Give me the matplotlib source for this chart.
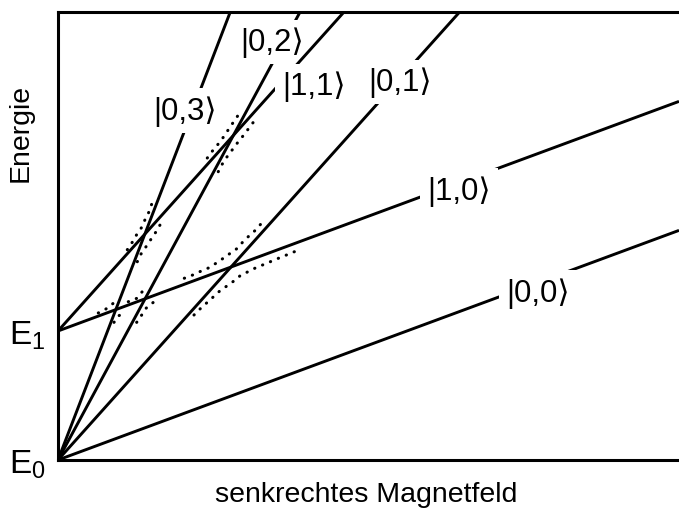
import numpy as np
import matplotlib.pyplot as plt

plt.rcParams['font.family'] = ['Liberation Sans', 'DejaVu Sans']
plt.rcParams['mathtext.default'] = 'regular'

# energy levels: energy at zero field and slope per unit field
states = ["|0,0⟩", "|1,0⟩", "|0,1⟩", "|0,2⟩", "|1,1⟩", "|0,3⟩"]
E_start = [0.0, 1.0, 0.0, 0.0, 1.0, 0.0]
slopes = [0.178, 0.178, 0.537, 0.891, 0.537, 1.252]

# where the state names sit (data coords)
label_B = [7.73, 6.46, 5.51, 3.45, 4.12, 2.05]
label_E = [1.30, 2.09, 2.93, 3.24, 2.90, 2.71]

B_max = 10.0
E_max = 3.473
E_ticks = [0.0, 1.0]
E_ticklabels = ["E$_0$", "E$_1$"]

# avoided crossings (dotted): (B values, E values)
anticrossings = [
    # |0,3> x |1,1>
    ([1.116, 1.196, 1.267, 1.348, 1.401, 1.470, 1.509],
     [1.630, 1.688, 1.747, 1.804, 1.863, 1.928, 1.984]),
    ([1.277, 1.337, 1.417, 1.493, 1.573, 1.643],
     [1.537, 1.597, 1.653, 1.708, 1.765, 1.822]),
    # |0,3> x |1,0>
    ([0.649, 0.773, 0.891],
     [1.140, 1.171, 1.215]),
    ([0.902, 0.982, 1.095],
     [1.067, 1.119, 1.153]),
    # |0,2> x |1,0>
    ([1.132, 1.267, 1.357],
     [1.227, 1.253, 1.305]),
    ([1.267, 1.348, 1.417, 1.535, 1.643],
     [1.067, 1.124, 1.176, 1.222, 1.253]),
    # |0,2> x |1,1>
    ([2.404, 2.491, 2.581, 2.662, 2.742, 2.823, 2.903],
     [2.341, 2.398, 2.450, 2.502, 2.560, 2.618, 2.674]),
    ([2.581, 2.636, 2.717, 2.807, 2.887, 2.974, 3.064, 3.145],
     [2.235, 2.287, 2.347, 2.405, 2.457, 2.509, 2.566, 2.618]),
    # |0,1> x |1,0>
    ([2.034, 2.169, 2.298, 2.420, 2.544, 2.662, 2.781, 2.894, 2.984, 3.092, 3.188, 3.280],
     [1.409, 1.434, 1.463, 1.488, 1.525, 1.564, 1.605, 1.643, 1.695, 1.744, 1.785, 1.837]),
    ([2.190, 2.298, 2.404, 2.512, 2.609, 2.726, 2.839, 2.947, 3.076, 3.200, 3.333, 3.457, 3.586, 3.720, 3.844],
     [1.124, 1.176, 1.222, 1.269, 1.312, 1.351, 1.390, 1.434, 1.463, 1.494, 1.519, 1.545, 1.571, 1.597, 1.622]),
]

fig = plt.figure(figsize=(6.79, 5.10), dpi=100)
ax = fig.add_axes([0.0854, 0.0961, 0.9146, 0.8784])

B = np.array([0.0, B_max])
for i, (name, e0, s) in enumerate(zip(states, E_start, slopes)):
    ax.plot(B, e0 + s * B, color="black", lw=2.1, solid_capstyle="butt", zorder=2 + 2 * i)
    ax.text(label_B[i], label_E[i], name, fontsize=22.5, ha="center", va="center",
            zorder=3 + 2 * i,
            bbox=dict(boxstyle="square,pad=0.22", facecolor="white", edgecolor="none"))

for b, e in anticrossings:
    ax.plot(b, e, color="black", lw=2.2, linestyle=(0, (0.1, 2.7)),
            dash_capstyle="round", zorder=20)

ax.set_xlim(0, B_max)
ax.set_ylim(0, E_max)
ax.set_xticks([])
ax.set_yticks(E_ticks)
ax.set_yticklabels(E_ticklabels, fontsize=24)
ax.tick_params(axis="y", length=0, pad=9)
for side in ["left", "top", "bottom"]:
    ax.spines[side].set_linewidth(2.2)
ax.spines["right"].set_visible(False)

ax.set_xlabel("senkrechtes Magnetfeld", fontsize=20.5)
ax.xaxis.set_label_coords(0.496, -0.046)
ax.set_ylabel("Energie", fontsize=20.5)
ax.yaxis.set_label_coords(-0.040, 0.732)

fig.savefig("out.png", dpi=100)
